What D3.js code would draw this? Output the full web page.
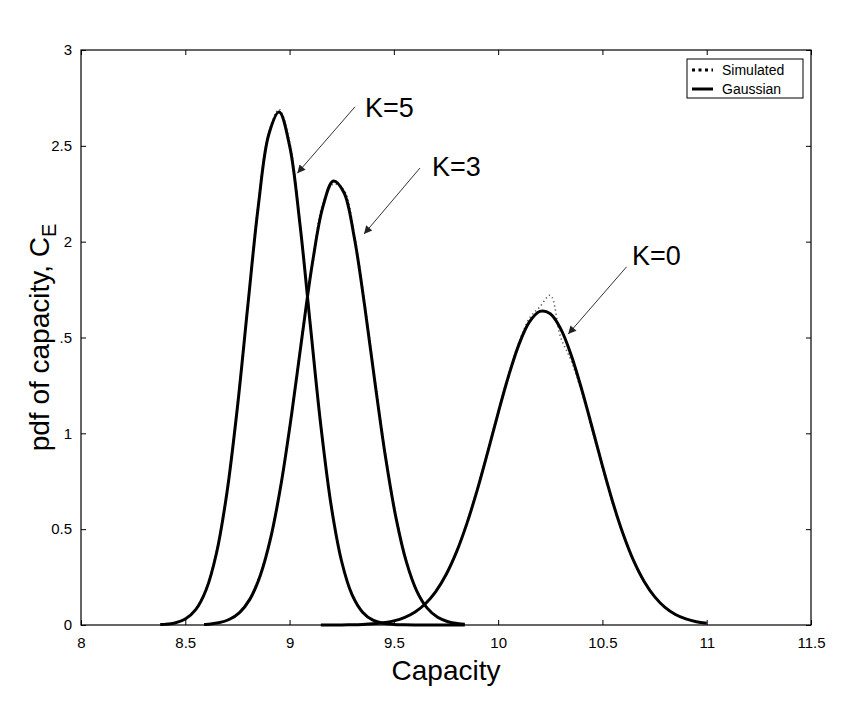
<!DOCTYPE html>
<html>
<head>
<meta charset="utf-8">
<script src="https://cdn.jsdelivr.net/npm/d3@7"></script>
<style>
  html, body { margin: 0; padding: 0; background: #fff; }
  svg { display: block; }
  text { font-family: "Liberation Sans", Arial, Helvetica, sans-serif; fill: #000; }
</style>
</head>
<body>
<script>
// ---------------- DATA ----------------
const xTicks = [8, 8.5, 9, 9.5, 10, 10.5, 11, 11.5];
const xTickLabels = ["8", "8.5", "9", "9.5", "10", "10.5", "11", "11.5"];
const yTicks = [0, 0.5, 1, 1.5, 2, 2.5, 3];
const yTickLabels = ["0", "0.5", "1", ".5", "2", "2.5", "3"];

// K=5 curve
const k5X = [8.38, 8.40, 8.45, 8.50, 8.55, 8.60, 8.65, 8.70, 8.75, 8.80, 8.85, 8.90, 8.95, 9.00, 9.05, 9.10, 9.15, 9.20, 9.25, 9.30, 9.35, 9.40, 9.45, 9.50, 9.55, 9.60, 9.70, 9.84];
const k5Gauss = [0.002, 0.0033, 0.0107, 0.031, 0.080, 0.184, 0.377, 0.693, 1.137, 1.668, 2.185, 2.558, 2.676, 2.501, 2.089, 1.559, 1.039, 0.619, 0.330, 0.157, 0.067, 0.025, 0.009, 0.003, 0.001, 0.0, 0.0, 0.0];
const k5Sim   = [0.002, 0.004, 0.012, 0.034, 0.085, 0.190, 0.385, 0.700, 1.150, 1.680, 2.200, 2.570, 2.690, 2.520, 2.100, 1.570, 1.050, 0.625, 0.335, 0.160, 0.070, 0.027, 0.010, 0.004, 0.001, 0.0, 0.0, 0.0];

// K=3 curve
const k3X = [8.59, 8.61, 8.66, 8.71, 8.76, 8.81, 8.86, 8.91, 8.96, 9.01, 9.06, 9.11, 9.16, 9.21, 9.26, 9.31, 9.36, 9.41, 9.46, 9.51, 9.56, 9.61, 9.66, 9.71, 9.76, 9.81, 9.84];
const k3Gauss = [0.002, 0.0043, 0.0116, 0.0286, 0.065, 0.135, 0.260, 0.457, 0.740, 1.101, 1.505, 1.891, 2.183, 2.316, 2.258, 2.023, 1.665, 1.260, 0.876, 0.560, 0.329, 0.177, 0.088, 0.040, 0.017, 0.007, 0.004];
const k3Sim   = [0.002, 0.005, 0.013, 0.031, 0.068, 0.140, 0.268, 0.465, 0.750, 1.110, 1.520, 1.900, 2.200, 2.300, 2.270, 2.040, 1.680, 1.275, 0.890, 0.570, 0.335, 0.180, 0.090, 0.042, 0.018, 0.008, 0.004];

// K=0 curve
const k0X = [9.15, 9.20, 9.25, 9.30, 9.35, 9.40, 9.45, 9.50, 9.55, 9.60, 9.65, 9.70, 9.75, 9.80, 9.85, 9.90, 9.95, 10.00, 10.05, 10.10, 10.15, 10.20, 10.25, 10.30, 10.35, 10.40, 10.45, 10.50, 10.55, 10.60, 10.65, 10.70, 10.75, 10.80, 10.85, 10.90, 10.95, 11.00];
const k0Gauss = [0.0001, 0.0003, 0.0006, 0.0014, 0.0029, 0.0059, 0.0115, 0.0216, 0.0387, 0.0665, 0.1095, 0.173, 0.262, 0.380, 0.529, 0.705, 0.902, 1.106, 1.299, 1.464, 1.581, 1.636, 1.624, 1.545, 1.409, 1.232, 1.033, 0.830, 0.639, 0.472, 0.334, 0.227, 0.148, 0.092, 0.055, 0.032, 0.017, 0.009];
const k0Sim   = [0.0001, 0.0003, 0.0006, 0.0014, 0.0030, 0.0060, 0.012, 0.022, 0.040, 0.068, 0.112, 0.176, 0.266, 0.385, 0.535, 0.715, 0.910, 1.115, 1.310, 1.475, 1.600, 1.660, 1.720, 1.500, 1.380, 1.215, 1.020, 0.820, 0.630, 0.468, 0.330, 0.224, 0.146, 0.090, 0.054, 0.031, 0.017, 0.009];

// Annotations (data coordinates): label position, arrow start, arrow tip
const annLabels = ["K=5", "K=3", "K=0"];
const annTextX = [9.362, 9.683, 10.642];
const annTextY = [2.652, 2.343, 1.878];
const annFromX = [9.314, 9.625, 10.616];
const annFromY = [2.704, 2.384, 1.869];
const annToX   = [9.037, 9.357, 10.336];
const annToY   = [2.357, 2.040, 1.518];

const legendLabels = ["Simulated", "Gaussian"];

// ---------------- CHART ----------------
const W = 853, H = 704;
const m = { left: 81, top: 50, right: 853 - 811, bottom: 704 - 625 };
const pw = W - m.left - m.right, ph = H - m.top - m.bottom;

const svg = d3.select("body").append("svg").attr("width", W).attr("height", H);
const g = svg.append("g").attr("transform", `translate(${m.left},${m.top})`);

const x = d3.scaleLinear().domain([8, 11.5]).range([0, pw]);
const y = d3.scaleLinear().domain([0, 3]).range([ph, 0]);

// axes
const axB = d3.axisBottom(x).tickValues(xTicks).tickSizeInner(-5).tickSizeOuter(0).tickPadding(12)
  .tickFormat((d, i) => xTickLabels[i]);
const axL = d3.axisLeft(y).tickValues(yTicks).tickSizeInner(-5).tickSizeOuter(0).tickPadding(9)
  .tickFormat((d, i) => yTickLabels[i]);
const axT = d3.axisTop(x).tickValues(xTicks).tickSizeInner(-5).tickSizeOuter(0).tickFormat("");
const axR = d3.axisRight(y).tickValues(yTicks).tickSizeInner(-5).tickSizeOuter(0).tickFormat("");

function styleAxis(sel) {
  sel.select(".domain").remove();
  sel.selectAll(".tick line").attr("stroke", "#000").attr("stroke-width", 1);
  sel.selectAll(".tick text").style("font-size", "15px").style("font-family", "'Liberation Sans', Arial, sans-serif");
}
g.append("g").attr("transform", `translate(0,${ph})`).call(axB).call(styleAxis);
g.append("g").call(axL).call(styleAxis);
g.append("g").call(axT).call(styleAxis);
g.append("g").attr("transform", `translate(${pw},0)`).call(axR).call(styleAxis);

g.append("rect").attr("x", 0).attr("y", 0).attr("width", pw).attr("height", ph)
  .attr("fill", "none").attr("stroke", "#000").attr("stroke-width", 1.2);

// curves
const line = d3.line().x(d => x(d[0])).y(d => y(d[1])).curve(d3.curveCatmullRom.alpha(0.5));
const curves = [
  { xs: k5X, gauss: k5Gauss, sim: k5Sim },
  { xs: k3X, gauss: k3Gauss, sim: k3Sim },
  { xs: k0X, gauss: k0Gauss, sim: k0Sim }
];
curves.forEach(c => {
  const ptsG = c.xs.map((v, i) => [v, c.gauss[i]]);
  const ptsS = c.xs.map((v, i) => [v, c.sim[i]]);
  g.append("path").attr("d", line(ptsS)).attr("fill", "none")
    .attr("stroke", "#555").attr("stroke-width", 1.6).attr("stroke-dasharray", "1.2,3");
  g.append("path").attr("d", line(ptsG)).attr("fill", "none")
    .attr("stroke", "#000").attr("stroke-width", 3).attr("stroke-linejoin", "round");
});

// annotations
svg.append("defs").append("marker").attr("id", "arr").attr("viewBox", "0 0 10 10")
  .attr("refX", 10).attr("refY", 5).attr("markerWidth", 14).attr("markerHeight", 8)
  .attr("markerUnits", "userSpaceOnUse").attr("orient", "auto")
  .append("path").attr("d", "M0,0 L10,5 L0,10 Z").attr("fill", "#222");
annLabels.forEach((lab, i) => {
  g.append("line").attr("x1", x(annFromX[i])).attr("y1", y(annFromY[i]))
    .attr("x2", x(annToX[i])).attr("y2", y(annToY[i]))
    .attr("stroke", "#333").attr("stroke-width", 1).attr("marker-end", "url(#arr)");
  g.append("text").attr("x", x(annTextX[i])).attr("y", y(annTextY[i]))
    .style("font-size", "27px").text(lab);
});

// legend
const lg = svg.append("g").attr("transform", "translate(687,59)");
lg.append("rect").attr("width", 116).attr("height", 39).attr("fill", "#fff")
  .attr("stroke", "#000").attr("stroke-width", 1);
legendLabels.forEach((lab, i) => {
  const cy = 11 + i * 19;
  lg.append("line").attr("x1", 5).attr("x2", 26).attr("y1", cy).attr("y2", cy)
    .attr("stroke", "#000").attr("stroke-width", 3)
    .attr("stroke-dasharray", i === 0 ? "3,3.5" : null);
  lg.append("text").attr("x", 35).attr("y", cy + 5).style("font-size", "14px").text(lab);
});

// axis titles
svg.append("text").attr("x", m.left + pw / 2).attr("y", 680).attr("text-anchor", "middle")
  .style("font-size", "28px").text("Capacity");
const yt = svg.append("text").attr("transform", `translate(49,${m.top + ph / 2}) rotate(-90)`)
  .attr("text-anchor", "middle").style("font-size", "28px");
yt.append("tspan").text("pdf of capacity, C");
yt.append("tspan").attr("dy", 7).style("font-size", "20px").text("E");
</script>
</body>
</html>
